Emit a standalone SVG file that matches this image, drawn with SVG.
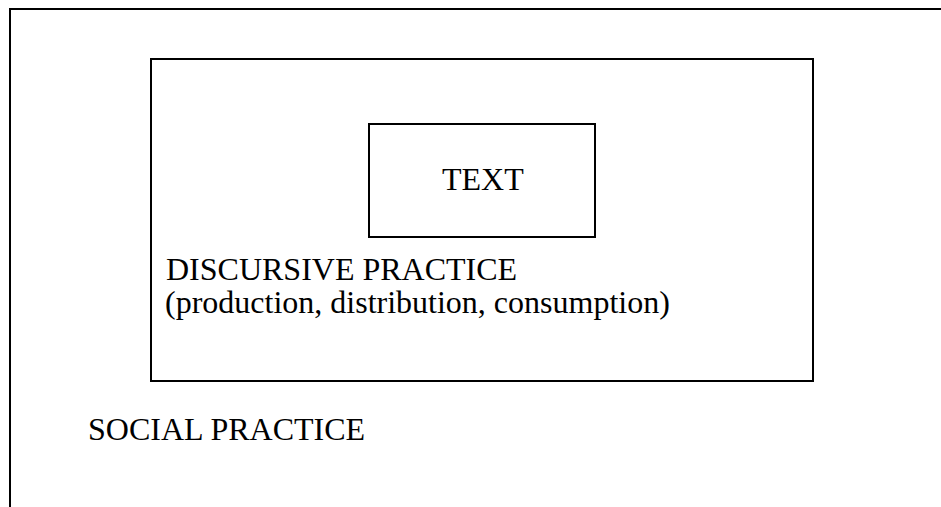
<svg xmlns="http://www.w3.org/2000/svg" width="941" height="507" viewBox="0 0 941 507">
<style>
.frame{fill:none;stroke:#000;stroke-width:2}
.lbl{font-family:"Liberation Serif","Times New Roman",serif;font-size:32px;fill:#000}
</style>
<rect width="941" height="507" fill="#fff"/>
<g id="social-practice">
<path class="frame" d="M10,507 V9 H941"/>
<text class="lbl" x="88" y="440">SOCIAL PRACTICE</text>
</g>
<g id="discursive-practice">
<rect class="frame" x="151" y="59" width="662" height="322"/>
<text class="lbl" x="166" y="280">DISCURSIVE PRACTICE</text>
<text class="lbl" x="165" y="313">(production, distribution, consumption)</text>
</g>
<g id="text-node">
<rect class="frame" x="369" y="124" width="226" height="113"/>
<text class="lbl" x="442" y="190">TEXT</text>
</g>
<g id="connectors"/>
</svg>
